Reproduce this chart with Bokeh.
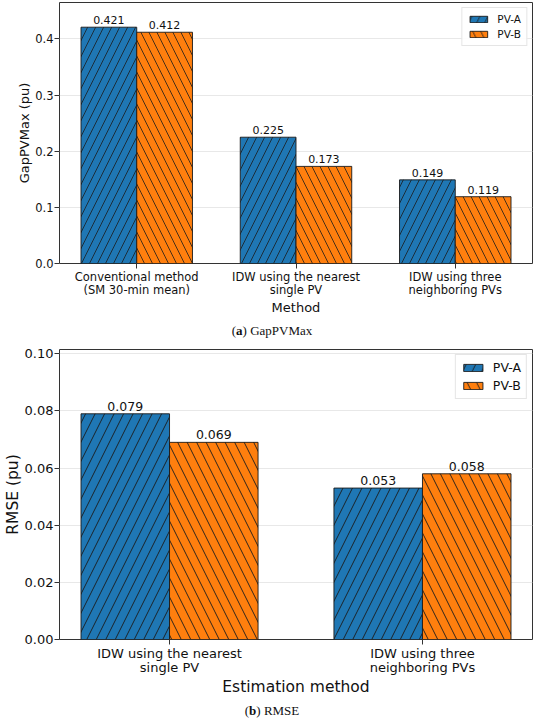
import numpy as np
from bokeh.plotting import figure
from bokeh.models import FixedTicker, PrintfTickFormatter, Div, ColumnDataSource, Range1d
from bokeh.layouts import column
from bokeh.embed import file_html
from bokeh.resources import INLINE
from bokeh.core.properties import value

# ---- data ----
methods_a = ["Conventional method\n(SM 30-min mean)",
             "IDW using the nearest\nsingle PV",
             "IDW using three\nneighboring PVs"]
gap_pva = [0.421, 0.225, 0.149]
gap_pvb = [0.412, 0.173, 0.119]
yticks_a = [0.0, 0.1, 0.2, 0.3, 0.4]

methods_b = ["IDW using the nearest\nsingle PV",
             "IDW using three\nneighboring PVs"]
rmse_pva = [0.079, 0.053]
rmse_pvb = [0.069, 0.058]
yticks_b = [0.00, 0.02, 0.04, 0.06, 0.08, 0.10]

series = ["PV-A", "PV-B"]
colors = ["#1f77b4", "#ff7f0e"]
hatches = ["/", "\\"]

FONT = "DejaVu Sans"
BAR_W = 0.35


def make_panel(methods, va, vb, yticks, ymax, fmt, ylabel, xlabel,
               height, border_top,
               tick_fs, val_fs, lab_fs, leg_fs,
               hatch_scale, hatch_w, leg_glyph_w, leg_glyph_h):
    n = len(methods)
    idx = np.arange(n)
    span = n - 1 + 2 * BAR_W
    p = figure(width=534, height=height,
               output_backend="svg", toolbar_location=None,
               x_range=Range1d(-BAR_W - 0.05 * span, n - 1 + BAR_W + 0.05 * span),
               y_range=Range1d(0, ymax),
               min_border_left=0, min_border_right=2,
               min_border_top=border_top, min_border_bottom=0)
    p.background_fill_color = "white"
    p.border_fill_color = "white"
    p.outline_line_color = "#333333"
    p.outline_line_width = 1

    for k, (vals, name) in enumerate(zip([va, vb], series)):
        xs = idx + (k - 0.5) * BAR_W
        src = ColumnDataSource(dict(x=xs, top=vals, lab=[f"{v:.3f}" for v in vals]))
        p.vbar(x="x", top="top", width=BAR_W, bottom=0, source=src,
               fill_color=colors[k], line_color="#1a1a1a", line_width=0.9,
               hatch_pattern=hatches[k], hatch_color="#1a1a1a", hatch_scale=hatch_scale,
               hatch_weight=hatch_w, legend_label=name)
        p.text(x="x", y="top", text="lab", source=src, text_align="center",
               text_baseline="bottom", y_offset=-3, text_font=value(FONT),
               text_font_size=f"{val_fs}px", text_color="#111111")

    p.xaxis.ticker = FixedTicker(ticks=list(idx))
    p.xaxis.major_label_overrides = {int(i): m for i, m in zip(idx, methods)}
    p.yaxis.ticker = FixedTicker(ticks=yticks)
    p.yaxis.formatter = PrintfTickFormatter(format=fmt)

    for ax in (p.xaxis, p.yaxis):
        ax.axis_line_color = None
        ax.major_tick_line_color = "#333333"
        ax.major_tick_out = 5
        ax.major_tick_in = 0
        ax.minor_tick_line_color = None
        ax.major_label_text_font = FONT
        ax.major_label_text_font_size = f"{tick_fs}px"
        ax.major_label_text_color = "#111111"
        ax.axis_label_text_font = FONT
        ax.axis_label_text_font_size = f"{lab_fs}px"
        ax.axis_label_text_font_style = "normal"
        ax.axis_label_text_color = "#111111"
    p.xaxis.major_label_standoff = 1
    p.xaxis.axis_label_standoff = 0
    p.xaxis.major_label_text_line_height = 0.95
    p.yaxis.major_label_standoff = 1
    p.yaxis.axis_label_standoff = 0
    p.xaxis.axis_label = xlabel
    p.yaxis.axis_label = ylabel

    p.xgrid.visible = False
    p.ygrid.grid_line_color = "#e8e8e8"
    p.ygrid.grid_line_width = 1

    lg = p.legend[0]
    lg.location = "top_right"
    lg.label_text_font = FONT
    lg.label_text_font_size = f"{leg_fs}px"
    lg.label_text_color = "#111111"
    lg.glyph_width = leg_glyph_w
    lg.glyph_height = leg_glyph_h
    lg.label_standoff = 8
    lg.spacing = 3
    lg.padding = 5
    lg.margin = 5
    lg.border_line_color = "#cccccc"
    lg.border_line_width = 1
    lg.background_fill_alpha = 0.9
    return p


p1 = make_panel(methods_a, gap_pva, gap_pvb, yticks_a, 0.465, "%.1f",
                "GapPVMax (pu)", "Method", 317, 2,
                11.5, 11, 13, 10.5, 16, 0.8, 22, 8)
p2 = make_panel(methods_b, rmse_pva, rmse_pvb, yticks_b, 0.1015, "%.2f",
                "RMSE (pu)", "Estimation method", 353, 4,
                13, 12.5, 15.5, 12.5, 19, 0.9, 24, 9)

cap_style = {"font-family": "Liberation Serif", "font-size": "13px",
             "text-align": "center", "color": "#111111", "width": "534px"}
d1 = Div(text="(<b>a</b>) GapPVMax", width=534, height=18,
         styles=dict(cap_style, **{"line-height": "18px"}))
d2 = Div(text="(<b>b</b>) RMSE", width=534, height=16,
         styles=dict(cap_style, **{"line-height": "16px"}))

layout = column(p1, d1, p2, d2, spacing=0)
open("out.html", "w").write(file_html(layout, INLINE))
